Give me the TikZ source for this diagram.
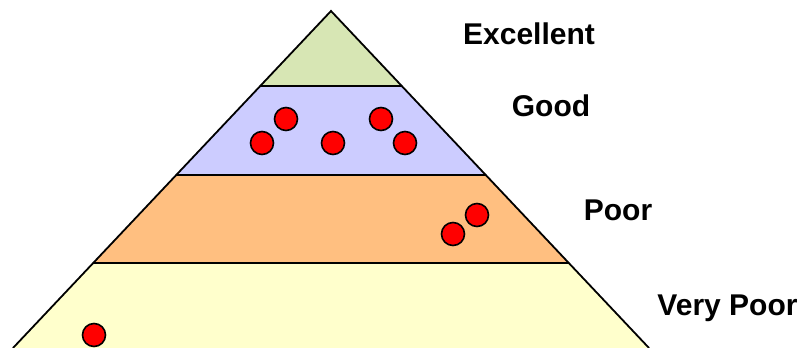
\documentclass[tikz,border=0pt]{standalone}
\usepackage{fontspec}
\setmainfont{Liberation Sans}
\definecolor{bandgreen}{RGB}{215,230,180}
\definecolor{bandblue}{RGB}{204,204,255}
\definecolor{bandorange}{RGB}{255,191,128}
\definecolor{bandyellow}{RGB}{255,255,204}
\tikzset{
  band/.style={line width=1.8pt, line join=miter},
  dot/.style={circle, draw=black, fill=red, line width=1.6pt, minimum size=23pt, inner sep=0pt},
  lbl/.style={font=\fontsize{30pt}{32pt}\selectfont\bfseries, inner sep=0pt, anchor=base}
}
\begin{document}
\begin{tikzpicture}[x=1pt,y=-1pt]
\useasboundingbox (0,0) rectangle (806,348);
% bands
\fill[bandyellow] (93.1,263) -- (568.9,263) -- (649,348) -- (13,348) -- cycle;
\fill[bandorange] (176.2,175) -- (485.8,175) -- (568.9,263) -- (93.1,263) -- cycle;
\fill[bandblue] (260.2,86) -- (401.8,86) -- (485.8,175) -- (176.2,175) -- cycle;
\fill[bandgreen] (331,11) -- (401.8,86) -- (260.2,86) -- cycle;
\draw[band] (13,348) -- (331,11) -- (649,348);
\draw[band] (260.2,86) -- (401.8,86);
\draw[band] (176.2,175) -- (485.8,175);
\draw[band] (93.1,263) -- (568.9,263);
% dots
\node[dot] (g1) at (286,119) {};
\node[dot] (g2) at (262,143) {};
\node[dot] (g3) at (333,143) {};
\node[dot] (g4) at (381,119) {};
\node[dot] (g5) at (405,143) {};
\node[dot] (p1) at (477,215) {};
\node[dot] (p2) at (453,234) {};
\node[dot] (v1) at (94,335) {};
% labels
\node[lbl] (lex) at (529,44.5) {Excellent};
\node[lbl] (lgo) at (551,116) {Good};
\node[lbl] (lpo) at (618,220) {Poor};
\node[lbl] (lvp) at (727.5,315) {Very Poor};
\end{tikzpicture}
\end{document}
